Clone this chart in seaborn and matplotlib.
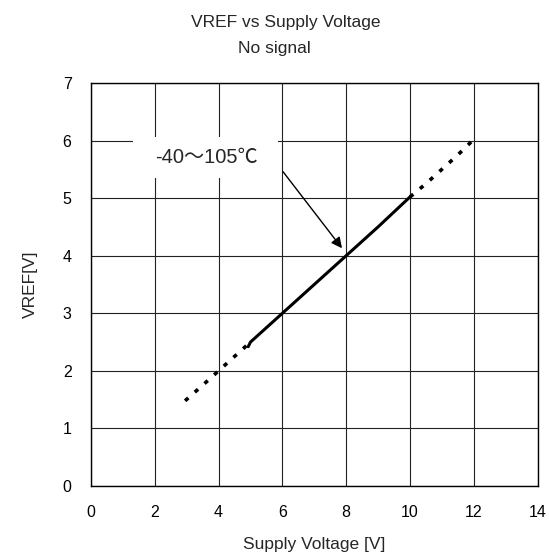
import matplotlib
matplotlib.use("Agg")
import matplotlib.pyplot as plt
import seaborn as sns
import pandas as pd
from matplotlib.patches import Rectangle

# ---- data ----
low_x = [2.95, 3.5, 4.0, 4.5, 5.0]
low_y = [1.48, 1.75, 2.0, 2.25, 2.5]
mid_x = [4.93, 5.0, 6.0, 7.0, 8.0, 9.0, 10.0]
mid_y = [2.42, 2.5, 3.0, 3.5, 4.0, 4.5, 5.02]
high_x = [10.0, 10.5, 11.0, 11.5, 12.0]
high_y = [5.02, 5.25, 5.5, 5.75, 6.02]
x_ticks = [0, 2, 4, 6, 8, 10, 12, 14]
y_ticks = [0, 1, 2, 3, 4, 5, 6, 7]
title_1 = "VREF vs Supply Voltage"
title_2 = "No signal"
x_label = "Supply Voltage [V]"
y_label = "VREF[V]"
annot = "-40～105℃"

sns.set_style("white")
plt.rcParams['font.family'] = ['Liberation Sans', 'Noto Sans CJK JP', 'DejaVu Sans']

fig = plt.figure(figsize=(5.49, 5.57), dpi=100)
ax = fig.add_axes([91/549, 1-486/557, (537.5-91)/549, (486-83)/557])

df_low = pd.DataFrame({"x": low_x, "y": low_y})
df_mid = pd.DataFrame({"x": mid_x, "y": mid_y})
df_high = pd.DataFrame({"x": high_x, "y": high_y})

sns.lineplot(data=df_low, x="x", y="y", ax=ax, color="black", lw=2.6,
             estimator=None, sort=False, zorder=3)
ax.lines[-1].set_dashes((1.2, 2.4))
sns.lineplot(data=df_mid, x="x", y="y", ax=ax, color="black", lw=2.2,
             estimator=None, sort=False, zorder=3)
sns.lineplot(data=df_high, x="x", y="y", ax=ax, color="black", lw=2.6,
             estimator=None, sort=False, zorder=3)
ax.lines[-1].set_dashes((1.2, 2.4))

ax.set_xlim(0, 14)
ax.set_ylim(0, 7)
ax.set_xticks(x_ticks)
ax.set_yticks(y_ticks)
ax.tick_params(axis='both', length=0, pad=14, labelsize=11.5, colors='black')
ax.grid(True, color='#222222', lw=0.8)
ax.set_axisbelow(True)
for s in ax.spines.values():
    s.set_visible(True)
    s.set_color('black')
    s.set_linewidth(1.0)

ax.set_xlabel(x_label, fontsize=12.5, labelpad=12)
ax.set_ylabel(y_label, fontsize=12.5, labelpad=18)

# annotation box
ax.add_patch(Rectangle((1.32, 5.35), 4.55, 0.71, facecolor='white',
                       edgecolor='none', zorder=2))
ax.text(3.61, 5.71, annot, fontsize=14.5, ha='center', va='center', zorder=4,
        family=['Liberation Sans', 'Noto Sans CJK JP'])
ax.annotate("", xy=(7.87, 4.13), xytext=(6.02, 5.46),
            arrowprops=dict(arrowstyle='-|>', color='black', lw=1.0,
                            mutation_scale=16, shrinkA=0, shrinkB=0), zorder=4)

fig.text(0.520, 1-23/557, title_1, ha='center', va='center', fontsize=12.5)
fig.text(0.500, 1-48/557, title_2, ha='center', va='center', fontsize=12.5)

fig.savefig("out.png", dpi=100)
